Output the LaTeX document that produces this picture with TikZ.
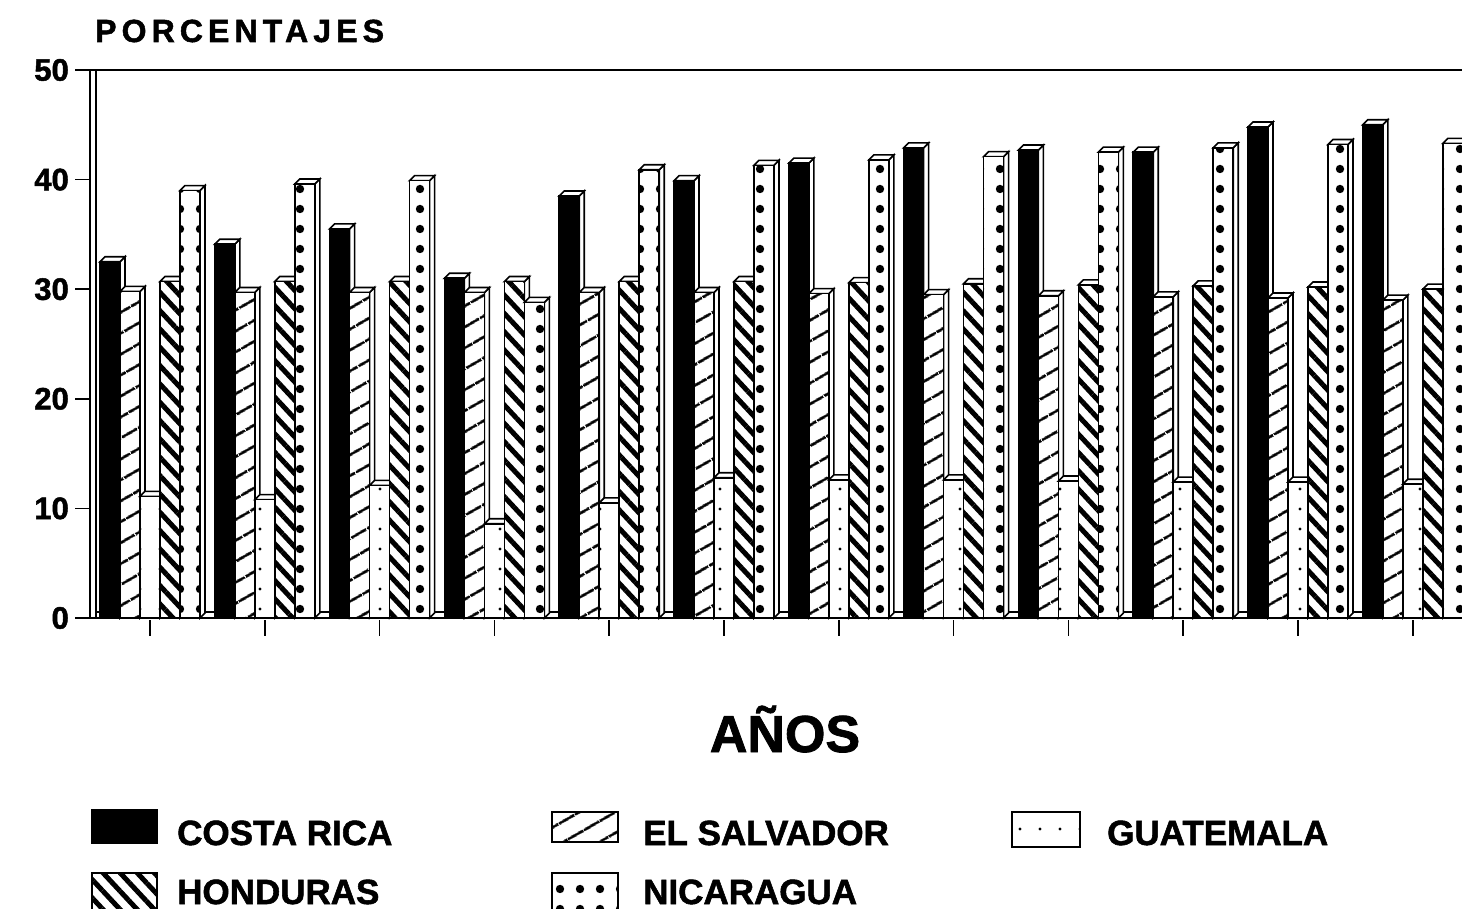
\documentclass[tikz,border=0pt]{standalone}
\usepackage{fontspec}
\setmainfont{Liberation Sans}[BoldFeatures={FakeBold=1.6}]
\usetikzlibrary{patterns.meta}

% one 3D bar: left x, value, front fill style
\newcommand{\chartbar}[3]{%
  \pgfmathsetmacro\bartop{618-10.96*#2}
  \draw[bar edge, fill=white] (#1+20,618) -- (#1+25,613) -- (#1+25,\bartop-5) -- (#1+20,\bartop) -- cycle;
  \draw[bar edge, fill=white] (#1,\bartop) -- (#1+5,\bartop-5) -- (#1+25,\bartop-5) -- (#1+20,\bartop) -- cycle;
  \draw[bar edge, #3] (#1,618) rectangle (#1+20,\bartop);
}

\begin{document}
\begin{tikzpicture}[
    x=1pt, y=-1pt,
    bar edge/.style={draw=black, line width=1.6pt},
    cr fill/.style={fill=black},
    es fill/.style={preaction={fill=white}, pattern={Lines[angle=30,distance=18.5pt,line width=3pt]}},
    gu fill/.style={preaction={fill=white}, pattern={Dots[distance=20pt,radius=1.6pt]}},
    ho fill/.style={preaction={fill=white}, pattern={Lines[angle=-47,distance=12.5pt,line width=5pt]}},
    ni fill/.style={preaction={fill=white}, pattern={Dots[distance=20pt,radius=4.2pt]}},
    axis line/.style={line width=2.2pt},
    tick line/.style={line width=1.6pt},
    lbl/.style={inner sep=0pt, font=\bfseries\fontsize{35}{38}\selectfont},
    num/.style={inner sep=0pt, font=\bfseries\fontsize{31}{34}\selectfont}
]

% bounding box
\useasboundingbox (0,0) rectangle (1462,909);
\clip (0,0) rectangle (1462,909);

\node[anchor=base west, inner sep=0pt,
      font=\bfseries\fontsize{32}{34}\selectfont\addfontfeature{LetterSpace=16}]
      (ytitle) at (95,42) {PORCENTAJES};

% axes
\draw[bar edge, fill=white] (90,70) rectangle (96,618);
\draw[bar edge, fill=white] (96,612) rectangle (1470,618);
\draw[axis line] (90,70) -- (1462,70);
\draw[axis line] (90,618) -- (1462,618);

\foreach \v in {0,10,...,50} {
  \draw[tick line] (75,618-10.96*\v) -- (90,618-10.96*\v);
  \node[num, anchor=east] (ylab\v) at (69,618-10.96*\v) {\v};
}

% blocks
\foreach \cr/\es/\gu/\ho/\ni [count=\g from 0] in {
    32.5/29.8/11.1/30.7/39.0, 34.1/29.7/10.8/30.7/39.6,
    35.5/29.7/12.1/30.7/39.9, 31.0/29.7/8.6/30.7/28.8,
    38.5/29.7/10.5/30.7/40.9, 39.9/29.7/12.8/30.7/41.3,
    41.5/29.6/12.6/30.6/41.8, 42.9/29.5/12.6/30.5/42.1,
    42.7/29.4/12.5/30.4/42.5, 42.5/29.3/12.4/30.3/42.9,
    44.8/29.2/12.4/30.2/43.2, 45.0/29.0/12.2/30.0/43.3} {
  \pgfmathsetmacro\gx{100+114.8*\g}
  \chartbar{\gx}{\cr}{cr fill}
  \chartbar{\gx+20}{\es}{es fill}
  \chartbar{\gx+40}{\gu}{gu fill}
  \chartbar{\gx+60}{\ho}{ho fill}
  \chartbar{\gx+80}{\ni}{ni fill}
  \draw[tick line] (\gx+50,620) -- (\gx+50,636);
}

\node[anchor=base, inner sep=0pt, font=\bfseries\fontsize{52}{56}\selectfont]
      (xtitle) at (785,752) {AÑOS};

% legend
\draw[bar edge, cr fill] (92,810) rectangle (157,843);
\node[lbl, anchor=base west] (legcr) at (177,845) {COSTA RICA};
\draw[bar edge, es fill] (552,812) rectangle (618,842);
\node[lbl, anchor=base west] (leges) at (643,845) {EL SALVADOR};
\draw[bar edge, gu fill] (1012,812) rectangle (1080,847);
\node[lbl, anchor=base west] (leggu) at (1107,845) {GUATEMALA};
\draw[bar edge, ho fill] (92,873) rectangle (157,915);
\node[lbl, anchor=base west] (legho) at (177,904) {HONDURAS};
\draw[bar edge, ni fill] (552,873) rectangle (618,915);
\node[lbl, anchor=base west] (legni) at (643,904) {NICARAGUA};

\end{tikzpicture}
\end{document}
